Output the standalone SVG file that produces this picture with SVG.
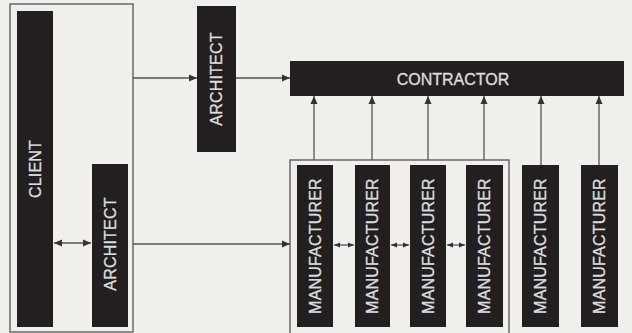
<svg xmlns="http://www.w3.org/2000/svg" width="632" height="333" viewBox="0 0 632 333">
<defs>
<style>
.bg{fill:#f0efeb}
.frame{fill:none;stroke:#555;stroke-width:1.3}
.box{fill:#231f20}
.lbl{fill:#dcdcdc;stroke:#dcdcdc;stroke-width:0.35;font-family:"Liberation Sans",Arial,sans-serif;font-size:16px;letter-spacing:0.2px;text-anchor:middle;dominant-baseline:central}
.ln{fill:none;stroke:#555;stroke-width:1.3}
</style>
<marker id="ah" viewBox="0 0 8 8" refX="8" refY="4" markerWidth="8" markerHeight="8" markerUnits="userSpaceOnUse" orient="auto-start-reverse">
<path d="M0,0.5 L8,4 L0,7.5 Z" fill="#333"/>
</marker>
<marker id="ahs" viewBox="0 0 6 6" refX="6" refY="3" markerWidth="6" markerHeight="6" markerUnits="userSpaceOnUse" orient="auto-start-reverse">
<path d="M0,0.5 L6,3 L0,5.5 Z" fill="#333"/>
</marker>
</defs>
<rect class="bg" x="0" y="0" width="632" height="333"/>
<g id="frames">
<rect class="frame" x="10" y="4" width="123" height="328"/>
<rect class="frame" x="290" y="160" width="219" height="175"/>
</g>
<g id="client"><rect class="box" x="17" y="11" width="36" height="316"/><text class="lbl" transform="translate(35 169) rotate(-90)">CLIENT</text></g>
<g id="architect-top"><rect class="box" x="197" y="6" width="39" height="146"/><text class="lbl" transform="translate(216.5 79) rotate(-90)">ARCHITECT</text></g>
<g id="architect-bottom"><rect class="box" x="92" y="164" width="36" height="163"/><text class="lbl" transform="translate(110 244) rotate(-90)">ARCHITECT</text></g>
<g id="contractor"><rect class="box" x="290" y="61" width="334" height="35"/><text class="lbl" x="453" y="79" style="letter-spacing:0">CONTRACTOR</text></g>
<g id="manufacturer-1"><rect class="box" x="297" y="165" width="36" height="162"/><text class="lbl" transform="translate(315 246) rotate(-90)">MANUFACTURER</text></g>
<g id="manufacturer-2"><rect class="box" x="355" y="165" width="35" height="162"/><text class="lbl" transform="translate(372.5 246) rotate(-90)">MANUFACTURER</text></g>
<g id="manufacturer-3"><rect class="box" x="410" y="165" width="36" height="162"/><text class="lbl" transform="translate(428 246) rotate(-90)">MANUFACTURER</text></g>
<g id="manufacturer-4"><rect class="box" x="466" y="165" width="37" height="162"/><text class="lbl" transform="translate(484.5 246) rotate(-90)">MANUFACTURER</text></g>
<g id="manufacturer-5"><rect class="box" x="522" y="165" width="37" height="162"/><text class="lbl" transform="translate(540.5 246) rotate(-90)">MANUFACTURER</text></g>
<g id="manufacturer-6"><rect class="box" x="581" y="165" width="37" height="162"/><text class="lbl" transform="translate(599.5 246) rotate(-90)">MANUFACTURER</text></g>
<g id="connectors">
<line class="ln" x1="133" y1="78" x2="197" y2="78" marker-end="url(#ah)"/>
<line class="ln" x1="236" y1="78" x2="290" y2="78" marker-end="url(#ah)"/>
<line class="ln" x1="54" y1="243" x2="91" y2="243" marker-start="url(#ah)" marker-end="url(#ah)"/>
<line class="ln" x1="133" y1="244" x2="290" y2="244" marker-end="url(#ah)"/>
<line class="ln" x1="334" y1="245" x2="354" y2="245" marker-start="url(#ahs)" marker-end="url(#ahs)"/>
<line class="ln" x1="391" y1="245" x2="409" y2="245" marker-start="url(#ahs)" marker-end="url(#ahs)"/>
<line class="ln" x1="447" y1="245" x2="465" y2="245" marker-start="url(#ahs)" marker-end="url(#ahs)"/>
<line class="ln" x1="314" y1="160" x2="314" y2="96" marker-end="url(#ah)"/>
<line class="ln" x1="372" y1="160" x2="372" y2="96" marker-end="url(#ah)"/>
<line class="ln" x1="428" y1="160" x2="428" y2="96" marker-end="url(#ah)"/>
<line class="ln" x1="484" y1="160" x2="484" y2="96" marker-end="url(#ah)"/>
<line class="ln" x1="541" y1="165" x2="541" y2="96" marker-end="url(#ah)"/>
<line class="ln" x1="599" y1="165" x2="599" y2="96" marker-end="url(#ah)"/>
</g>
</svg>
